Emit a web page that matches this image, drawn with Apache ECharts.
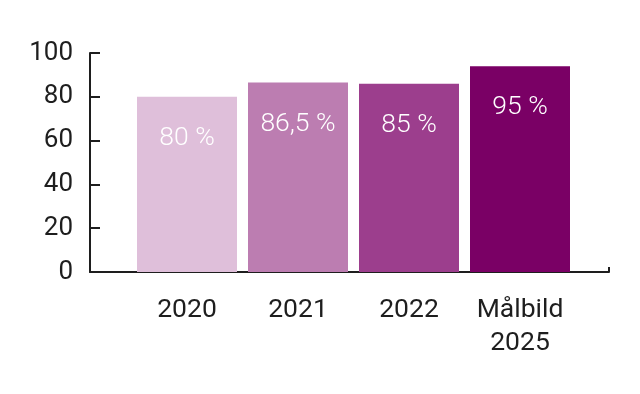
<!DOCTYPE html>
<html><head><meta charset="utf-8">
<script src="https://cdn.jsdelivr.net/npm/echarts@6/dist/echarts.min.js"></script>
<style>html,body{margin:0;padding:0;background:#fff}#c{width:640px;height:394px}</style>
</head><body><div id="c"></div>
<script>
const categories = ['2020', '2021', '2022', 'Målbild\n2025'];
const values = [80, 86.5, 86, 94];
const valueLabels = ['80 %', '86,5 %', '85 %', '95 %'];
const barColors = ['#dfbfda', '#bc7db1', '#9c3e8d', '#7a0065'];
const yTicks = [0, 20, 40, 60, 80, 100];

const chart = echarts.init(document.getElementById('c'), null, {renderer: 'canvas'});
const ink = '#1e1e1e';
const font = 'Roboto';
chart.setOption({
  animation: false,
  grid: [
    {left: 90, right: 31, top: 53, bottom: 122},
    {left: 131.5, right: 64.5, top: 53, bottom: 122}
  ],
  xAxis: [
    {gridIndex: 0, type: 'value', min: 0, max: 1, interval: 1,
     axisLine: {show: true, lineStyle: {color: ink, width: 2}},
     axisTick: {show: true, inside: true, length: 5, lineStyle: {color: ink, width: 2}},
     axisLabel: {show: false}, splitLine: {show: false}},
    {gridIndex: 1, type: 'category', data: categories,
     axisLine: {show: false}, axisTick: {show: false},
     axisLabel: {interval: 0, hideOverlap: false, color: ink, fontFamily: font, fontSize: 26.5, lineHeight: 33, margin: 22}}
  ],
  yAxis: [
    {gridIndex: 0, type: 'value', min: yTicks[0], max: yTicks[yTicks.length - 1], interval: 20,
     axisLine: {show: true, lineStyle: {color: ink, width: 2}},
     axisTick: {show: true, inside: true, length: 10, lineStyle: {color: ink, width: 2}},
     axisLabel: {color: ink, fontFamily: font, fontSize: 26, margin: 17},
     splitLine: {show: false}},
    {gridIndex: 1, type: 'value', min: 0, max: 100, show: false}
  ],
  series: [{
    type: 'bar', xAxisIndex: 1, yAxisIndex: 1, barWidth: 100,
    data: values.map((v, i) => ({value: v, itemStyle: {color: barColors[i]},
      label: {formatter: valueLabels[i]}})),
    label: {show: true, position: 'insideTop', distance: 28, color: '#fff',
      fontFamily: font, fontWeight: 300, fontSize: 26.5}
  }]
});
</script></body></html>
